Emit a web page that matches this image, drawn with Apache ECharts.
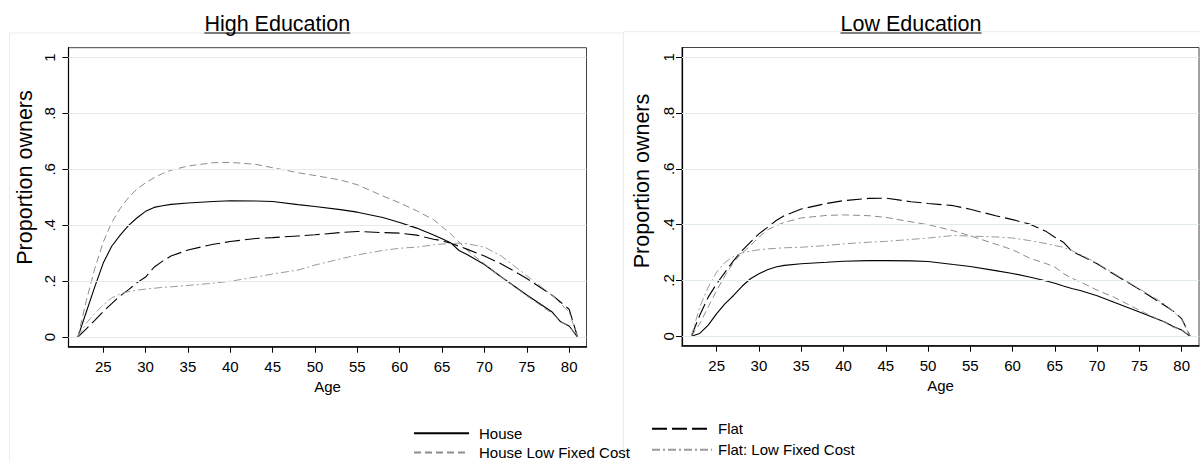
<!DOCTYPE html>
<html><head><meta charset="utf-8">
<script src="https://cdn.jsdelivr.net/npm/echarts@6/dist/echarts.min.js"></script>
<style>html,body{margin:0;padding:0;background:#fff}#c{width:1201px;height:461px}</style>
</head><body><div id="c"></div>
<script>
// ---------- data ----------
const ages = [22,23,24,25,26,27,28,29,30,31,32,33,35,38,40,43,45,48,50,53,55,58,60,62,64,65,66,67,68,70,72,75,78,79,80,81];

// High Education panel
const highHouse    = [0,0.09,0.18,0.265,0.325,0.365,0.40,0.427,0.45,0.464,0.47,0.475,0.48,0.485,0.488,0.487,0.485,0.474,0.467,0.456,0.447,0.428,0.41,0.39,0.365,0.352,0.338,0.31,0.295,0.26,0.215,0.151,0.09,0.055,0.04,0];
const highHouseLFC = [0,0.13,0.245,0.34,0.41,0.46,0.50,0.53,0.552,0.57,0.585,0.597,0.612,0.624,0.625,0.618,0.606,0.588,0.578,0.562,0.545,0.505,0.48,0.452,0.42,0.395,0.37,0.34,0.31,0.262,0.215,0.148,0.085,0.055,0.038,0];
const highFlat     = [0,0.03,0.06,0.092,0.12,0.148,0.17,0.195,0.215,0.25,0.272,0.29,0.312,0.332,0.342,0.353,0.356,0.362,0.366,0.374,0.378,0.374,0.372,0.365,0.35,0.345,0.336,0.325,0.314,0.29,0.262,0.21,0.15,0.125,0.1,0];
const highFlatLFC  = [0,0.05,0.085,0.115,0.14,0.155,0.163,0.168,0.172,0.175,0.178,0.18,0.185,0.193,0.2,0.215,0.226,0.24,0.258,0.28,0.294,0.31,0.318,0.322,0.33,0.333,0.335,0.336,0.334,0.322,0.29,0.22,0.15,0.12,0.09,0];

// Low Education panel
const lowHouse     = [0,0.01,0.04,0.081,0.117,0.146,0.179,0.206,0.224,0.238,0.248,0.254,0.26,0.265,0.269,0.271,0.271,0.27,0.268,0.257,0.25,0.235,0.225,0.212,0.198,0.19,0.18,0.171,0.164,0.145,0.122,0.087,0.051,0.035,0.022,0];
const lowHouseLFC  = [0,0.045,0.105,0.164,0.218,0.265,0.298,0.325,0.355,0.381,0.396,0.408,0.424,0.433,0.435,0.432,0.426,0.41,0.4,0.378,0.36,0.33,0.31,0.28,0.26,0.248,0.225,0.208,0.195,0.165,0.14,0.093,0.05,0.032,0.024,0];
const lowFlat      = [0,0.075,0.14,0.188,0.23,0.271,0.307,0.337,0.367,0.39,0.414,0.432,0.456,0.476,0.486,0.494,0.495,0.482,0.476,0.468,0.455,0.432,0.418,0.402,0.375,0.355,0.337,0.305,0.29,0.26,0.222,0.168,0.11,0.09,0.063,0];
const lowFlatLFC   = [0,0.105,0.176,0.23,0.265,0.286,0.299,0.305,0.31,0.313,0.315,0.317,0.319,0.325,0.331,0.337,0.34,0.347,0.352,0.361,0.359,0.356,0.352,0.343,0.332,0.325,0.319,0.307,0.293,0.262,0.225,0.17,0.115,0.09,0.06,0];

const xTicks = [25,30,35,40,45,50,55,60,65,70,75,80];
const yTicks = [0,0.2,0.4,0.6,0.8,1];
const panelTitles = ['High Education','Low Education'];
const seriesNames = ['House','House Low Fixed Cost','Flat','Flat: Low Fixed Cost'];
const yTitle = 'Proportion owners';
const xTitle = 'Age';

// ---------- chart ----------
const FONT = '"Liberation Sans", Arial, Helvetica, sans-serif';
const panels = [
  [highHouse, highHouseLFC, highFlat, highFlatLFC],
  [lowHouse, lowHouseLFC, lowFlat, lowFlatLFC]
];
const styles = [
  {color:'#000000', width:1.1, type:'solid'},
  {color:'#8c8c8c', width:1, type:[7,4]},
  {color:'#000000', width:1.1, type:[15,5]},
  {color:'#9a9a9a', width:1, type:[8,3,2,3]}
];
const grids = [
  {left:68.5, top:47.7, width:518, height:299},
  {left:682, top:47.5, width:517, height:298.2}
];

function yFmt(v){ if (Math.abs(v) < 1e-9) return '0'; if (Math.abs(v-1)<1e-9) return '1'; return String(+v.toFixed(1)).replace(/^0\./,'.'); }

const series = [];
panels.forEach((arrs, p) => {
  series.push({
    type:'line', name:'_grid'+p, xAxisIndex:p, yAxisIndex:p, data:[], z:1, silent:true,
    markLine:{silent:true, symbol:['none','none'], label:{show:false}, animation:false,
      lineStyle:{color:'#e2ecef', width:1, type:'solid'},
      data: yTicks.map(v => ({yAxis:v}))}
  });
  arrs.forEach((arr, i) => {
    series.push({
      type:'line', name:seriesNames[i], xAxisIndex:p, yAxisIndex:p, z:3,
      symbol:'none', showSymbol:false, smooth:false,
      data: ages.map((a, k) => [a, arr[k]]),
      lineStyle:{color:styles[i].color, width:styles[i].width, type:styles[i].type},
      itemStyle:{color:styles[i].color}
    });
  });
});

const mkX = p => ({
  gridIndex:p, type:'value', min:20.9, max:82.05,
  axisLine:{show:true, onZero:false, lineStyle:{color:'#000', width:1.5}},
  axisTick:{show:true, customValues:xTicks, length:6, lineStyle:{color:'#000', width:1}},
  axisLabel:{customValues:xTicks, fontSize:15, color:'#000', margin:12, fontFamily:FONT},
  splitLine:{show:false},
  name:xTitle, nameLocation:'middle', nameGap:25,
  nameTextStyle:{fontSize:15, color:'#000', fontFamily:FONT}
});
const mkY = (p, margin) => ({
  gridIndex:p, type:'value', min:-0.034, max:1.035,
  axisLine:{show:true, onZero:false, lineStyle:{color:'#000', width:1.2}},
  axisTick:{show:true, customValues:yTicks, length:6, lineStyle:{color:'#000', width:1}},
  axisLabel:{customValues:yTicks, fontSize:15, color:'#000', margin:margin, rotate:90, fontFamily:FONT, formatter:yFmt},
  splitLine:{show:false}
});

// measure title widths for underline
const ctx = document.createElement('canvas').getContext('2d');
ctx.font = '21.5px ' + FONT;
const titleCenters = [277.3, 911];
const graphic = [
  {type:'rect', silent:true, z:-10, shape:{x:9.5, y:33, width:613.8, height:460}, style:{fill:'none', stroke:'#ececec', lineWidth:1}},
  {type:'rect', silent:true, z:-10, shape:{x:623.5, y:31.7, width:600, height:460}, style:{fill:'none', stroke:'#ececec', lineWidth:1}}
];
panelTitles.forEach((t, p) => {
  const w = ctx.measureText(t).width;
  const cx = titleCenters[p];
  graphic.push({type:'text', x:cx, y:23.5, style:{text:t, font:'21.5px ' + FONT, fill:'#000', textAlign:'center', textVerticalAlign:'middle'}});
  graphic.push({type:'line', shape:{x1:cx - w/2, y1:33, x2:cx + w/2, y2:33}, style:{stroke:'#000', lineWidth:1}});
});
[[25,177.5],[642,181]].forEach(([x,y]) => {
  graphic.push({type:'text', x:x, y:y, rotation:Math.PI/2, style:{text:yTitle, font:'21.5px ' + FONT, fill:'#000', textAlign:'center', textVerticalAlign:'middle'}});
});

const legendBase = {orient:'vertical', itemHeight:14, selectedMode:false, padding:0,
  itemStyle:{opacity:0, borderWidth:0}};
const chart = echarts.init(document.getElementById('c'), null, {renderer:'svg'});
chart.setOption({
  animation:false,
  backgroundColor:'#ffffff',
  textStyle:{fontFamily:FONT},
  grid: grids.map(g => Object.assign({show:true, borderColor:'#444', borderWidth:1, backgroundColor:'transparent'}, g)),
  xAxis:[mkX(0), mkX(1)],
  yAxis:[mkY(0, 12), mkY(1, 6)],
  legend:[
    Object.assign({}, legendBase, {data:['House','House Low Fixed Cost'], left:413, top:425.7, itemWidth:55, itemGap:4.3,
     textStyle:{fontSize:15, color:'#000', fontFamily:FONT, padding:[0,0,0,5], lineHeight:14}}),
    Object.assign({}, legendBase, {data:['Flat','Flat: Low Fixed Cost'], left:651, top:421.3, itemWidth:60, itemGap:6,
     textStyle:{fontSize:15, color:'#000', fontFamily:FONT, padding:[0,0,0,1], lineHeight:14}})
  ],
  graphic: graphic,
  series: series
});
</script></body></html>
